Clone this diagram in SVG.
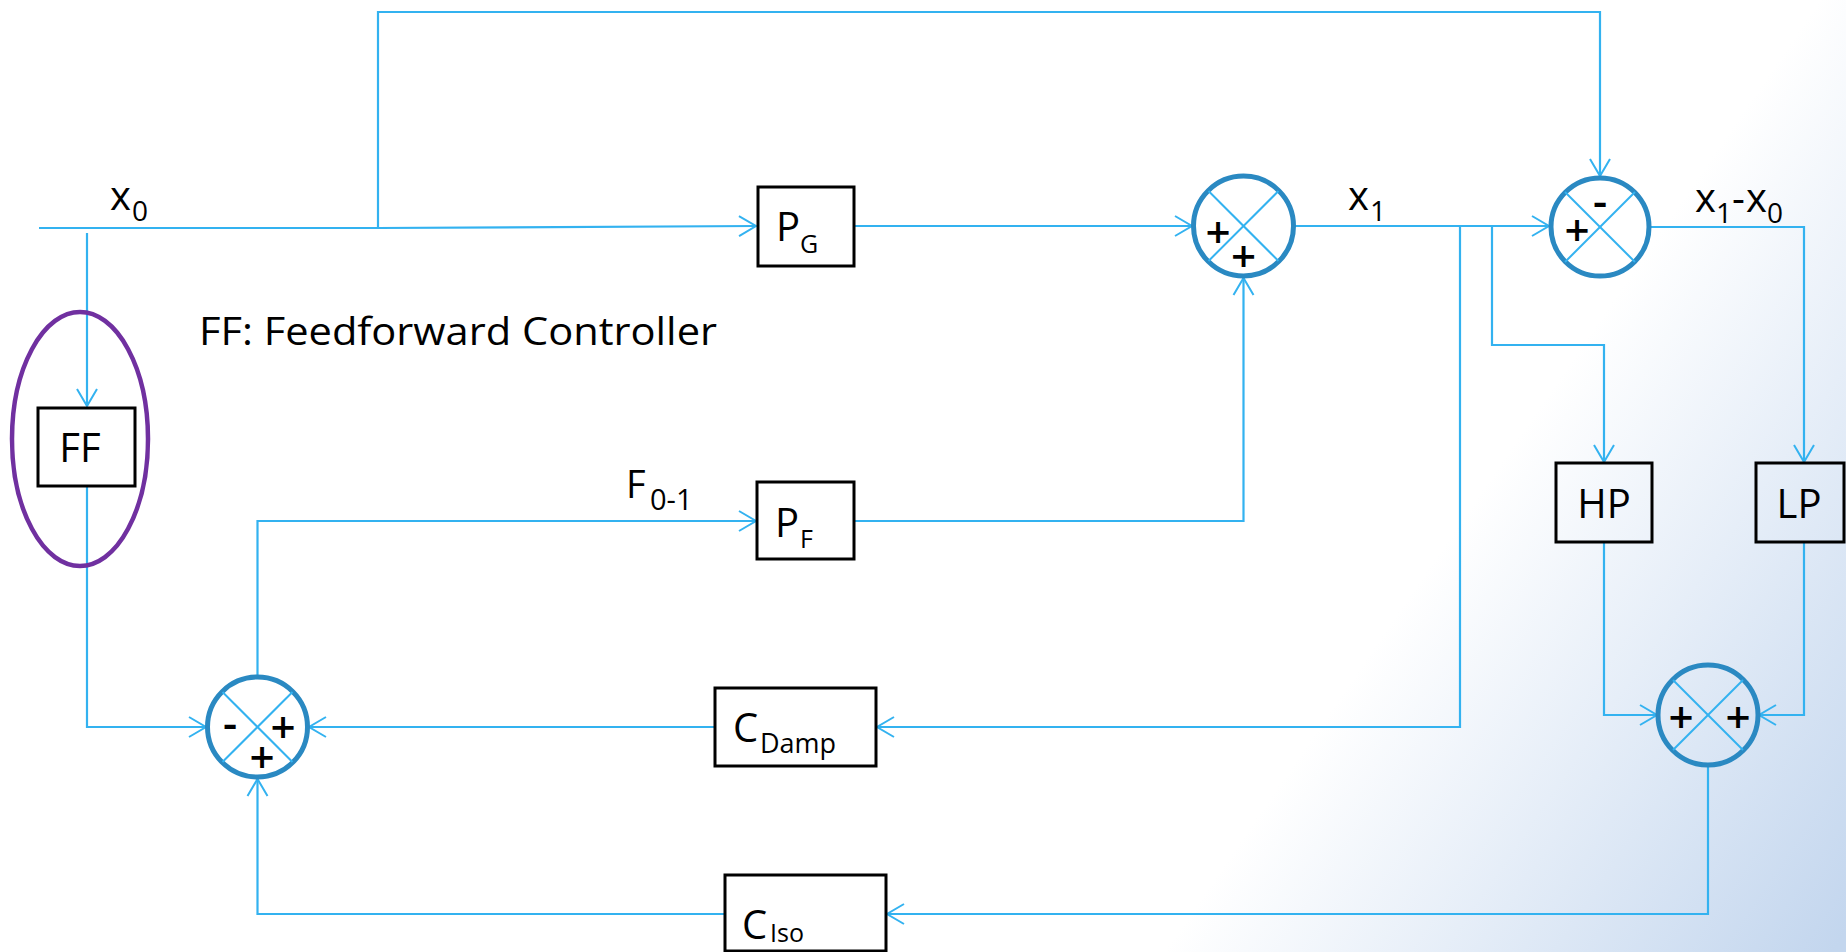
<svg xmlns="http://www.w3.org/2000/svg" width="1846" height="952" viewBox="0 0 1846 952">
<defs>
<linearGradient id="bg" gradientUnits="userSpaceOnUse" x1="1200" y1="900" x2="1653" y2="1212">
<stop offset="0" stop-color="#ffffff"/>
<stop offset="1" stop-color="#c3d6ee"/>
</linearGradient>
<marker id="arr" markerUnits="userSpaceOnUse" viewBox="-20 -12 22 24" markerWidth="22" markerHeight="24" refX="0" refY="0" orient="auto" overflow="visible">
<path d="M-17,-10 L0,0 L-17,10" fill="none" stroke="#33b2f0" stroke-width="2"/>
</marker>
<style>
.c{fill:none;stroke:#33b2f0;stroke-width:2.2;marker-end:url(#arr)}
.box{fill:none;stroke:#000;stroke-width:3}
.sum{fill:none;stroke:#2a89c2;stroke-width:5}
.x{stroke:#33b2f0;stroke-width:2}
text{font-family:"Open Sans","Liberation Sans",sans-serif;fill:#000}
.t{font-size:40px}
.s{font-size:25px}
.sg{font-size:44px;text-anchor:middle;font-weight:600}
</style>
</defs>
<rect x="0" y="0" width="1846" height="952" fill="url(#bg)"/>

<g id="connectors">
<path class="c" d="M39,228 H378 L756,226"/>
<path class="c" d="M378,228 V12 H1600 V176"/>
<path class="c" d="M87,233 V406"/>
<path class="c" d="M87,486 V727 H206"/>
<path class="c" d="M854,226 H1192"/>
<path class="c" d="M1293,226 H1549"/>
<path class="c" d="M1460,226 V727 H877"/>
<path class="c" d="M1492,226 V345 H1604 V462"/>
<path class="c" d="M1649,227 H1804 V462"/>
<path class="c" d="M1604,542 V715 H1657"/>
<path class="c" d="M1804,542 V715 H1759"/>
<path class="c" d="M1708,765 V914 H887"/>
<path class="c" d="M725,914 H257.5 V779"/>
<path class="c" d="M715,727 H309"/>
<path class="c" d="M257.5,677 V521 H756"/>
<path class="c" d="M854,521 H1243.5 V278"/>
</g>

<g id="ff">
<ellipse cx="80" cy="439" rx="68" ry="127" fill="none" stroke="#7030a0" stroke-width="4.5"/>
<rect class="box" x="38" y="408" width="97" height="78"/>
<text class="t" x="80" y="462" text-anchor="middle">FF</text>
</g>
<g id="caption">
<text x="199" y="345" style="font-size:38px" textLength="518" lengthAdjust="spacingAndGlyphs">FF: Feedforward Controller</text>
</g>

<g id="pg">
<rect class="box" x="758" y="187" width="96" height="79"/>
<text class="t" x="776" y="241">P</text>
<text class="s" x="800" y="253">G</text>
</g>
<g id="pf">
<rect class="box" x="757" y="482" width="97" height="77"/>
<text class="t" x="775" y="537">P</text>
<text class="s" x="800" y="548">F</text>
</g>
<g id="cdamp">
<rect class="box" x="715" y="688" width="161" height="78"/>
<text class="t" x="733" y="742">C</text>
<text x="760" y="753" style="font-size:27px">Damp</text>
</g>
<g id="ciso">
<rect class="box" x="725" y="875" width="161" height="76"/>
<text class="t" x="742" y="939">C</text>
<text class="s" x="770" y="942">Iso</text>
</g>
<g id="hp">
<rect class="box" x="1556" y="463" width="96" height="79"/>
<text class="t" x="1604" y="518" text-anchor="middle">HP</text>
</g>
<g id="lp">
<rect class="box" x="1756" y="463" width="88" height="79"/>
<text class="t" x="1799" y="518" text-anchor="middle">LP</text>
</g>

<g id="sum1">
<circle class="sum" cx="1243.5" cy="226" r="50"/>
<line class="x" x1="1208.5" y1="191" x2="1278.5" y2="261"/>
<line class="x" x1="1278.5" y1="191" x2="1208.5" y2="261"/>
<text class="sg" x="1218" y="248">+</text>
<text class="sg" x="1243.5" y="272">+</text>
</g>
<g id="sum2">
<circle class="sum" cx="1600" cy="227" r="49"/>
<line class="x" x1="1565" y1="192" x2="1635" y2="262"/>
<line class="x" x1="1635" y1="192" x2="1565" y2="262"/>
<text class="sg" x="1577" y="246">+</text>
<text class="sg" x="1600" y="217">-</text>
</g>
<g id="sum3">
<circle class="sum" cx="257.5" cy="727" r="50"/>
<line class="x" x1="222.5" y1="692" x2="292.5" y2="762"/>
<line class="x" x1="292.5" y1="692" x2="222.5" y2="762"/>
<text class="sg" x="230" y="739">-</text>
<text class="sg" x="283" y="743">+</text>
<text class="sg" x="262" y="773">+</text>
</g>
<g id="sum4">
<circle class="sum" cx="1708" cy="715" r="50"/>
<line class="x" x1="1673" y1="680" x2="1743" y2="750"/>
<line class="x" x1="1743" y1="680" x2="1673" y2="750"/>
<text class="sg" x="1681" y="733">+</text>
<text class="sg" x="1738" y="733">+</text>
</g>

<g id="labels">
<text class="t" x="110" y="210">x</text>
<text x="132" y="221" style="font-size:28px">0</text>
<text class="t" x="1348" y="210">x</text>
<text x="1370" y="221" style="font-size:28px">1</text>
<text class="t" x="1695" y="212">x</text>
<text x="1716" y="223" style="font-size:28px">1</text>
<text class="t" x="1732" y="212">-</text>
<text class="t" x="1746" y="212">x</text>
<text x="1767" y="223" style="font-size:28px">0</text>
<text x="626" y="498" style="font-size:38px">F</text>
<text x="650" y="510" style="font-size:29px">0-1</text>
</g>
</svg>
